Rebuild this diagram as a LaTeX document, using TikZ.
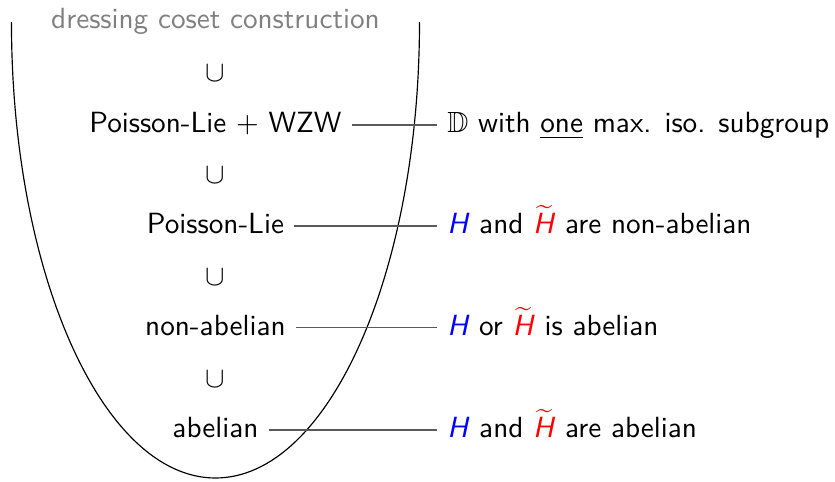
\documentclass[tikz,border=0pt]{standalone}
\usepackage{amsmath,amssymb}
\usepackage{tikz}
\usetikzlibrary{positioning}
\usepackage{xcolor}
\newcommand{\Hgrp}{\textit{H}}
\newcommand{\Hdual}{\ensuremath{\widetilde{\mbox{\Hgrp}}}}

\begin{document}
\begin{tikzpicture}[
  lbl/.style={font=\sffamily, text height=1.5ex, text depth=.25ex},
  cond/.style={lbl, anchor=west},
  link/.style={black!65}]
  \useasboundingbox (-2.593,-5.524) rectangle (7.455,0.265);
  % 外层曲线
  \draw (-2.455,0) arc[start angle=180, end angle=360, x radius=2.455, y radius=5.487];
  \node[lbl, gray] (title) at (0,0.02) {dressing coset construction};

  % 包含关系
  \node (c1) at (0,-0.62) {$\cup$};
  \node[lbl] (pw) at (0,-1.24) {Poisson-Lie $+$ WZW};
  \node (c2) at (0,-1.847) {$\cup$};
  \node[lbl] (pl) at (0,-2.455) {Poisson-Lie};
  \node (c3) at (0,-3.07) {$\cup$};
  \node[lbl] (na) at (0,-3.68) {non-abelian};
  \node (c4) at (0,-4.296) {$\cup$};
  \node[lbl] (ab) at (0,-4.91) {abelian};

  % 条件
  \node[cond] (dd) at (2.665,-1.24) {$\mathbb{D}$ with \underline{one} max. iso. subgroup};
  \node[cond] (hh) at (2.665,-2.455) {{\color{blue}\Hgrp} and {\color{red}\Hdual} are non-abelian};
  \node[cond] (ho) at (2.665,-3.68) {{\color{blue}\Hgrp} or {\color{red}\Hdual} is abelian};
  \node[cond] (ha) at (2.665,-4.91) {{\color{blue}\Hgrp} and {\color{red}\Hdual} are abelian};

  \draw[link] (pw) -- (dd);
  \draw[link] (pl) -- (hh);
  \draw[link] (na) -- (ho);
  \draw[link] (ab) -- (ha);
\end{tikzpicture}
\end{document}
